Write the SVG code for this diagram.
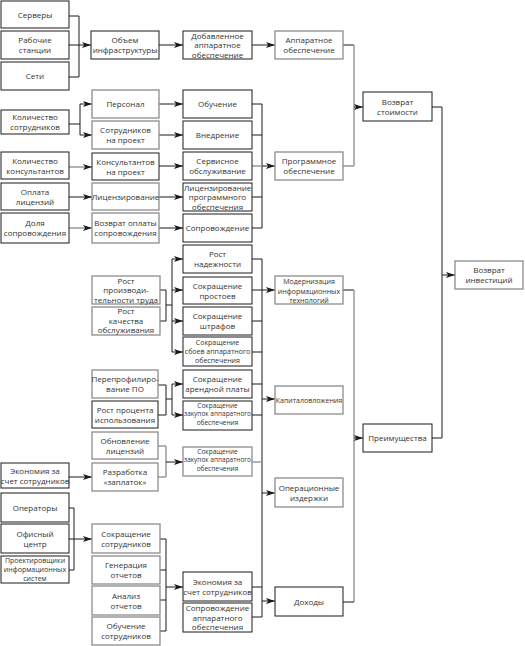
<svg xmlns="http://www.w3.org/2000/svg" width="525" height="646" viewBox="0 0 525 646">
<defs>
<style>
.b{fill:#fff;stroke:#1a1a1a;stroke-width:1}
.g{fill:#fff;stroke:#8c8c8c;stroke-width:1.3}
.t{font-family:"Open Sans","Noto Sans",sans-serif;font-size:8px;fill:#333;text-anchor:middle}
.s{font-size:7px}
.xs{font-size:6.5px}
.l{fill:none;stroke:#1a1a1a;stroke-width:1}
.lg{fill:none;stroke:#9a9a9a;stroke-width:1.5}
.a{marker-end:url(#ah)}
</style>
<marker id="ah" markerWidth="9" markerHeight="6" refX="9" refY="3" orient="auto" markerUnits="userSpaceOnUse">
<path d="M0,0 L9,3 L0,6 L2.2,3 z" fill="#1a1a1a"/>
</marker>
</defs>
<rect width="525" height="646" fill="#fff"/>

<g id="connectors">
<!-- section 1 -->
<path class="l" d="M69,16 H79 M69,45 H79 M69,77 H79 M79,16 V77"/>
<path class="l a" d="M79,45 H91"/>
<path class="l a" d="M159,45 H183"/>
<path class="l a" d="M252,45 H275"/>
<path class="l" d="M343,45 H354"/>
<path class="lg" d="M354,45 V166"/>
<path class="l a" d="M354,107 H363"/>
<path class="l" d="M432,107 H442 V438 M432,438 H442"/>
<path class="l a" d="M442,275 H455"/>
<!-- section 2 -->
<path class="l" d="M69,124 H80 M80,104 V135"/>
<path class="l a" d="M80,104 H92"/>
<path class="l a" d="M80,135 H92"/>
<path class="lg a" d="M69,167 H92"/>
<path class="l a" d="M69,197 H92"/>
<path class="lg a" d="M69,228 H92"/>
<path class="l a" d="M159,104 H183"/>
<path class="l a" d="M159,135 H183"/>
<path class="l a" d="M159,166 H183"/>
<path class="l a" d="M159,197 H183"/>
<path class="l a" d="M159,228 H183"/>
<path class="l" d="M252,104 H262 M252,135 H262 M252,197 H262 M252,228 H262 M262,104 V228"/>
<path class="lg" d="M252,166 H262"/>
<path class="l a" d="M262,166 H275"/>
<path class="lg" d="M343,166 H354"/>
<!-- section 3 -->
<path class="l" d="M160,290 H166 M160,321 H166 M166,290 V321 M166,305 H172 M172,259 V352"/>
<path class="l a" d="M172,259 H183"/>
<path class="l a" d="M172,290 H183"/>
<path class="l a" d="M172,321 H183"/>
<path class="l a" d="M172,352 H183"/>
<path class="l" d="M252,259 H262 M252,290 H262 M252,321 H262 M252,352 H262 M262,259 V617"/>
<path class="l a" d="M262,290 H275"/>
<path class="l" d="M343,290 H354"/>
<path class="lg" d="M354,290 V602"/>
<path class="l a" d="M354,438 H363"/>
<!-- section 4 -->
<path class="l" d="M158,385 H166 M158,415 H166 M166,385 V415 M166,399 H172 M172,384 V415"/>
<path class="l a" d="M172,384 H183"/>
<path class="l a" d="M172,415 H183"/>
<path class="l" d="M252,384 H262 M252,415 H262"/>
<path class="l a" d="M262,399 H275"/>
<path class="lg" d="M158,446 H166 M158,477 H166 M166,446 V477"/>
<path class="l a" d="M166,462 H183"/>
<path class="lg" d="M252,462 H262"/>
<path class="l a" d="M69,477 H92"/>
<!-- section 5 -->
<path class="l" d="M69,508 H74 M69,539 H74 M69,570 H74 M74,508 V570"/>
<path class="l a" d="M74,539 H92"/>
<path class="l" d="M160,539 H166 M160,570 H166 M160,600 H166 M160,631 H166 M166,539 V631"/>
<path class="l a" d="M166,587 H183"/>
<path class="l" d="M252,587 H262 M252,617 H262"/>
<path class="l a" d="M262,493 H275"/>
<path class="l a" d="M262,601 H275"/>
<path class="l" d="M343,602 H354"/>
</g>

<g id="n-servery"><rect class="b" x="1" y="1" width="68" height="27"/><text class="t" x="35" y="17.5">Серверы</text></g>
<g id="n-rabochie"><rect class="b" x="1" y="31" width="68" height="28"/><text class="t" x="35" y="43">Рабочие<tspan x="35" dy="10">станции</tspan></text></g>
<g id="n-seti"><rect class="b" x="1" y="62" width="68" height="28"/><text class="t" x="35" y="79">Сети</text></g>
<g id="n-obem"><rect class="b" x="91" y="31" width="68" height="28"/><text class="t" x="125" y="43">Объем<tspan x="125" dy="10">инфраструктуры</tspan></text></g>
<g id="n-dobavl"><rect class="b" x="183" y="31" width="69" height="28"/><text class="t" x="217.5" y="38.5">Добавленное<tspan x="217.5" dy="9.5">аппаратное</tspan><tspan x="217.5" dy="9.5">обеспечение</tspan></text></g>
<g id="n-apparat"><rect class="g" x="275" y="31" width="68" height="28"/><text class="t" x="309" y="43">Аппаратное<tspan x="309" dy="10">обеспечение</tspan></text></g>
<g id="n-vozvrat-st"><rect class="b" x="363" y="92" width="69" height="29"/><text class="t" x="397.5" y="104.5">Возврат<tspan x="397.5" dy="10">стоимости</tspan></text></g>
<g id="n-vozvrat-inv"><rect class="g" x="455" y="261" width="68" height="28"/><text class="t" x="489" y="273">Возврат<tspan x="489" dy="9.5">инвестиций</tspan></text></g>

<g id="n-kol-sotr"><rect class="b" x="1" y="110" width="68" height="24"/><text class="t" x="35" y="120">Количество<tspan x="35" dy="10">сотрудников</tspan></text></g>
<g id="n-personal"><rect class="g" x="92" y="90" width="67" height="28"/><text class="t" x="125.5" y="107">Персонал</text></g>
<g id="n-sotr-proekt"><rect class="g" x="92" y="121" width="67" height="28"/><text class="t" x="125.5" y="133">Сотрудников<tspan x="125.5" dy="10">на проект</tspan></text></g>
<g id="n-kol-kons"><rect class="b" x="1" y="152" width="68" height="27"/><text class="t" x="35" y="163.5">Количество<tspan x="35" dy="10">консультантов</tspan></text></g>
<g id="n-kons-proekt"><rect class="b" x="92" y="153" width="67" height="27"/><text class="t" x="125.5" y="164.5">Консультантов<tspan x="125.5" dy="10">на проект</tspan></text></g>
<g id="n-oplata"><rect class="b" x="1" y="183" width="68" height="27"/><text class="t" x="35" y="194.5">Оплата<tspan x="35" dy="10">лицензий</tspan></text></g>
<g id="n-licenz"><rect class="g" x="92" y="183" width="67" height="27"/><text class="t" x="125.5" y="199.5">Лицензирование</text></g>
<g id="n-dolya"><rect class="b" x="1" y="213" width="68" height="30"/><text class="t" x="35" y="226">Доля<tspan x="35" dy="10">сопровождения</tspan></text></g>
<g id="n-vozvrat-opl"><rect class="g" x="92" y="213" width="67" height="30"/><text class="t" x="125.5" y="226">Возврат оплаты<tspan x="125.5" dy="10">сопровождения</tspan></text></g>
<g id="n-obuchenie"><rect class="b" x="183" y="90" width="69" height="28"/><text class="t" x="217.5" y="107">Обучение</text></g>
<g id="n-vnedrenie"><rect class="b" x="183" y="121" width="69" height="28"/><text class="t" x="217.5" y="138">Внедрение</text></g>
<g id="n-servis"><rect class="b" x="183" y="152" width="69" height="28"/><text class="t" x="217.5" y="164">Сервисное<tspan x="217.5" dy="10">обслуживание</tspan></text></g>
<g id="n-licenz-po"><rect class="b" x="183" y="183" width="69" height="28"/><text class="t" x="217.5" y="190.5">Лицензирование<tspan x="217.5" dy="9.5">программного</tspan><tspan x="217.5" dy="9.5">обеспечения</tspan></text></g>
<g id="n-soprov"><rect class="b" x="183" y="214" width="69" height="28"/><text class="t" x="217.5" y="231">Сопровождение</text></g>
<g id="n-programm"><rect class="g" x="275" y="152" width="68" height="28"/><text class="t" x="309" y="164">Программное<tspan x="309" dy="10">обеспечение</tspan></text></g>

<g id="n-rost-proizv"><rect class="g" x="92" y="276" width="68" height="28"/><text class="t" x="126" y="283.5">Рост<tspan x="126" dy="9.5">производи-</tspan><tspan x="126" dy="9.5">тельности труда</tspan></text></g>
<g id="n-rost-kach"><rect class="g" x="92" y="307" width="68" height="28"/><text class="t" x="126" y="314">Рост<tspan x="126" dy="9.5">качества</tspan><tspan x="126" dy="9.5">обслуживания</tspan></text></g>
<g id="n-rost-nadezh"><rect class="b" x="183" y="245" width="69" height="28"/><text class="t" x="217.5" y="257">Рост<tspan x="217.5" dy="10">надежности</tspan></text></g>
<g id="n-sokr-prost"><rect class="b" x="183" y="277" width="69" height="27"/><text class="t" x="217.5" y="288.5">Сокращение<tspan x="217.5" dy="10">простоев</tspan></text></g>
<g id="n-sokr-shtraf"><rect class="b" x="183" y="307" width="69" height="28"/><text class="t" x="217.5" y="319">Сокращение<tspan x="217.5" dy="10">штрафов</tspan></text></g>
<g id="n-sokr-sboev"><rect class="b" x="183" y="337" width="69" height="29"/><text class="t s" x="217.5" y="345">Сокращение<tspan x="217.5" dy="9">сбоев аппаратного</tspan><tspan x="217.5" dy="9">обеспечения</tspan></text></g>
<g id="n-modern"><rect class="g" x="275" y="276" width="68" height="28"/><text class="t s" x="309" y="284">Модернизация<tspan x="309" dy="9.5">информационных</tspan><tspan x="309" dy="9.5">технологий</tspan></text></g>
<g id="n-kapital"><rect class="g" x="275" y="386" width="68" height="28"/><text class="t s" x="309" y="402.5">Капиталовложения</text></g>
<g id="n-preimush"><rect class="b" x="363" y="424" width="69" height="28"/><text class="t" x="397.5" y="440.5">Преимущества</text></g>

<g id="n-pereprof"><rect class="g" x="92" y="370" width="66" height="28"/><text class="t" x="125" y="382">Перепрофилиро-<tspan x="125" dy="10">вание ПО</tspan></text></g>
<g id="n-rost-proc"><rect class="b" x="92" y="401" width="66" height="27"/><text class="t" x="125" y="412.5">Рост процента<tspan x="125" dy="10">использования</tspan></text></g>
<g id="n-sokr-arend"><rect class="b" x="183" y="370" width="69" height="28"/><text class="t" x="217.5" y="382">Сокращение<tspan x="217.5" dy="10">арендной платы</tspan></text></g>
<g id="n-sokr-zak1"><rect class="b" x="183" y="401" width="69" height="29"/><text class="t xs" x="217.5" y="407.5">Сокращение<tspan x="217.5" dy="8.5">закупок аппаратного</tspan><tspan x="217.5" dy="8.5">обеспечения</tspan></text></g>
<g id="n-obnovl"><rect class="g" x="92" y="432" width="66" height="27"/><text class="t" x="125" y="443.5">Обновление<tspan x="125" dy="10">лицензий</tspan></text></g>
<g id="n-razrab"><rect class="g" x="92" y="463" width="66" height="28"/><text class="t" x="125" y="475">Разработка<tspan x="125" dy="10">«заплаток»</tspan></text></g>
<g id="n-sokr-zak2"><rect class="g" x="183" y="447" width="69" height="29"/><text class="t xs" x="217.5" y="453.5">Сокращение<tspan x="217.5" dy="8.5">закупок аппаратного</tspan><tspan x="217.5" dy="8.5">обеспечения</tspan></text></g>
<g id="n-ekon1"><rect class="b" x="1" y="463" width="68" height="25"/><text class="t" x="35" y="473.5">Экономия за<tspan x="35" dy="10">счет сотрудников</tspan></text></g>
<g id="n-operac"><rect class="g" x="275" y="478" width="68" height="29"/><text class="t" x="309" y="490.5">Операционные<tspan x="309" dy="10">издержки</tspan></text></g>

<g id="n-operatory"><rect class="b" x="1" y="493" width="68" height="29"/><text class="t" x="35" y="510.5">Операторы</text></g>
<g id="n-ofis"><rect class="b" x="1" y="524" width="68" height="29"/><text class="t" x="35" y="536.5">Офисный<tspan x="35" dy="10">центр</tspan></text></g>
<g id="n-proekt"><rect class="b" x="1" y="556" width="68" height="27"/><text class="t s" x="35" y="562.5">Проектировщики<tspan x="35" dy="9">информационных</tspan><tspan x="35" dy="9">систем</tspan></text></g>
<g id="n-sokr-sotr"><rect class="g" x="92" y="524" width="68" height="29"/><text class="t" x="126" y="536.5">Сокращение<tspan x="126" dy="10">сотрудников</tspan></text></g>
<g id="n-generac"><rect class="g" x="92" y="556" width="68" height="28"/><text class="t" x="126" y="568">Генерация<tspan x="126" dy="10">отчетов</tspan></text></g>
<g id="n-analiz"><rect class="g" x="92" y="586" width="68" height="29"/><text class="t" x="126" y="598.5">Анализ<tspan x="126" dy="10">отчетов</tspan></text></g>
<g id="n-obuch-sotr"><rect class="g" x="92" y="617" width="68" height="28"/><text class="t" x="126" y="629">Обучение<tspan x="126" dy="10">сотрудников</tspan></text></g>
<g id="n-ekon2"><rect class="b" x="183" y="572" width="69" height="29"/><text class="t" x="217.5" y="584.5">Экономия за<tspan x="217.5" dy="10">счет сотрудников</tspan></text></g>
<g id="n-soprov-app"><rect class="b" x="183" y="603" width="69" height="29"/><text class="t" x="217.5" y="611">Сопровождение<tspan x="217.5" dy="9.5">аппаратного</tspan><tspan x="217.5" dy="9.5">обеспечения</tspan></text></g>
<g id="n-dohody"><rect class="b" x="275" y="587" width="68" height="29"/><text class="t" x="309" y="604.5">Доходы</text></g>
</svg>
